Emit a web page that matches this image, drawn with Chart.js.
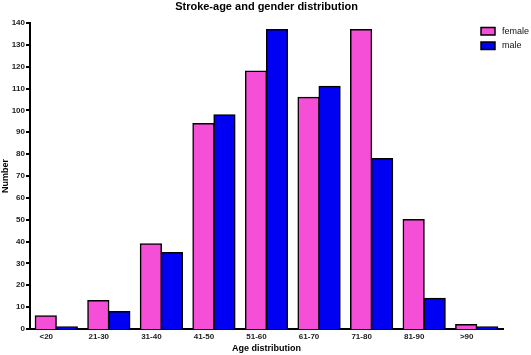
<!DOCTYPE html>
<html>
<head>
<meta charset="utf-8">
<script src="https://cdn.jsdelivr.net/npm/chart.js@4"></script>
<style>
html,body{margin:0;padding:0;background:#fff;}
#wrap{width:531px;height:355px;position:relative;}
</style>
</head>
<body>
<div id="wrap"><canvas id="c" width="531" height="355"></canvas></div>
<script>
const categories = ['<20','21-30','31-40','41-50','51-60','61-70','71-80','81-90','>90'];
const female = [6, 13, 39, 94, 118, 106, 137, 50, 2];
const male = [1, 8, 35, 98, 137, 111, 78, 14, 1];
const seriesNames = ['female', 'male'];
const seriesColors = ['#F44FD6', '#0000F2'];
const chartTitle = 'Stroke-age and gender distribution';

const FONT = "'Liberation Sans', Arial, sans-serif";

const decorPlugin = {
  id: 'decor',
  afterDraw(chart) {
    const ctx = chart.ctx;
    const area = chart.chartArea;
    const ys = chart.scales.y;
    ctx.save();
    // y tick marks
    ctx.strokeStyle = '#000';
    ctx.lineWidth = 2;
    ys.ticks.forEach(t => {
      const py = Math.round(ys.getPixelForValue(t.value));
      ctx.beginPath();
      ctx.moveTo(area.left - 4, py);
      ctx.lineTo(area.left, py);
      ctx.stroke();
    });
    // title centered over plot area
    ctx.font = 'bold 11px ' + FONT;
    ctx.fillStyle = '#000';
    ctx.textAlign = 'center';
    ctx.textBaseline = 'middle';
    ctx.fillText(chartTitle, (area.left + area.right) / 2, 7);
    // legend
    ctx.font = '9px ' + FONT;
    ctx.textAlign = 'left';
    chart.data.datasets.forEach((ds, i) => {
      const y = 27.5 + i * 14.5;
      ctx.fillStyle = ds.backgroundColor;
      ctx.fillRect(481, y, 14, 7.5);
      ctx.strokeStyle = '#000';
      ctx.lineWidth = 1.5;
      ctx.strokeRect(481, y, 14, 7.5);
      ctx.fillStyle = '#111';
      ctx.fillText(ds.label, 502, y + 4);
    });
    ctx.restore();
  }
};

new Chart(document.getElementById('c'), {
  type: 'bar',
  data: {
    labels: categories,
    datasets: [
      { label: seriesNames[0], data: female, backgroundColor: seriesColors[0], borderColor: '#000', borderWidth: 1.5, inflateAmount: 0.6, categoryPercentage: 0.8, barPercentage: 1.0 },
      { label: seriesNames[1], data: male, backgroundColor: seriesColors[1], borderColor: '#000', borderWidth: 1.5, inflateAmount: 0.6, categoryPercentage: 0.8, barPercentage: 1.0 }
    ]
  },
  options: {
    responsive: false,
    animation: false,
    layout: { padding: { left: 0, right: 28, top: 23, bottom: 0 } },
    plugins: {
      legend: { display: false },
      tooltip: { enabled: false },
      title: { display: false }
    },
    scales: {
      x: {
        grid: { display: false, drawTicks: false },
        border: { display: true, color: '#000', width: 2 },
        ticks: { color: '#222', font: { family: FONT, size: 8, weight: 'bold' }, padding: 3, labelOffset: -10, maxRotation: 0, autoSkip: false },
        title: { display: true, text: 'Age distribution', color: '#000', font: { family: FONT, size: 9, weight: 'bold', lineHeight: 1.2 }, padding: { top: 0, bottom: 1 } },
        afterFit(scale) { scale.height = 26; }
      },
      y: {
        min: 0, max: 140,
        grid: { display: false, drawTicks: true, tickLength: 5 },
        border: { display: true, color: '#000', width: 2 },
        ticks: { stepSize: 10, color: '#222', font: { family: FONT, size: 8, weight: 'bold' }, padding: 0 },
        title: { display: true, text: 'Number', color: '#000', font: { family: FONT, size: 9, weight: 'bold', lineHeight: 1.2 }, padding: { top: 0, bottom: 0 } },
        afterFit(scale) { scale.width = 30; }
      }
    }
  },
  plugins: [decorPlugin]
});
</script>
</body>
</html>
